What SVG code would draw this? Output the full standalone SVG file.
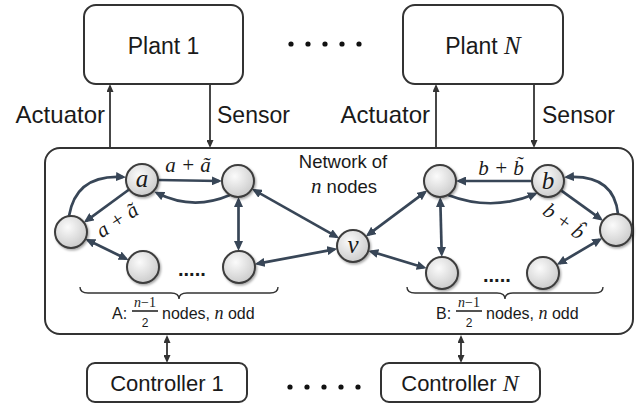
<svg xmlns="http://www.w3.org/2000/svg" width="638" height="404" viewBox="0 0 638 404">
<defs>
<style>
.box{fill:#fff;stroke:#333;stroke-width:2}
.t{font-family:"Liberation Sans",Arial,sans-serif;fill:#1a1a1a}
.m{font-family:"Liberation Serif","Times New Roman",serif;font-style:italic;fill:#1a1a1a}
.io{stroke:#333;stroke-width:1.8;fill:none}
.e{stroke:#384657;stroke-width:2.7;fill:none}
.node{fill:url(#ng);stroke:#3d3d3d;stroke-width:2;filter:url(#sh)}
.dot{fill:#111}
.brace{fill:none;stroke:#333;stroke-width:1.4}
</style>
<radialGradient id="ng" cx="40%" cy="35%" r="70%">
<stop offset="0" stop-color="#fbfbfb"/>
<stop offset="1" stop-color="#c9c9c9"/>
</radialGradient>
<filter id="sh" x="-30%" y="-30%" width="160%" height="160%">
<feDropShadow dx="1.2" dy="1.5" stdDeviation="1" flood-color="#000" flood-opacity="0.35"/>
</filter>
<marker id="ah" markerUnits="userSpaceOnUse" markerWidth="11" markerHeight="9" refX="7" refY="4.5" orient="auto-start-reverse">
<path d="M0,0 L10,4.5 L0,9 z" fill="#384657"/>
</marker>
<marker id="sa" markerUnits="userSpaceOnUse" markerWidth="9" markerHeight="7" refX="6" refY="3.5" orient="auto-start-reverse">
<path d="M0,0 L8,3.5 L0,7 z" fill="#333"/>
</marker>
</defs>

<g id="plant1">
<rect class="box" x="84" y="5" width="159" height="79" rx="12"/>
<text class="t" x="163.5" y="54" font-size="23" text-anchor="middle">Plant 1</text>
</g>
<g id="plantN">
<rect class="box" x="403" y="5" width="160" height="79" rx="12"/>
<text class="t" x="483" y="54" font-size="23" text-anchor="middle">Plant <tspan class="m" font-size="25">N</tspan></text>
</g>
<g id="topdots">
<circle class="dot" cx="291" cy="44" r="2.6"/><circle class="dot" cx="308" cy="44" r="2.6"/><circle class="dot" cx="325" cy="44" r="2.6"/><circle class="dot" cx="342" cy="44" r="2.6"/><circle class="dot" cx="359" cy="44" r="2.6"/>
</g>

<g id="network">
<rect class="box" x="45" y="148" width="588" height="186" rx="15" stroke-width="2.4"/>
<text class="t" x="343" y="168" font-size="18.5" text-anchor="middle">Network of</text>
<text class="t" x="344" y="193" font-size="18.5" text-anchor="middle"><tspan class="m" font-size="21">n</tspan> nodes</text>
</g>

<g id="controller1">
<rect class="box" x="87" y="363" width="160" height="39" rx="8"/>
<text class="t" x="167" y="391" font-size="22" text-anchor="middle">Controller 1</text>
</g>
<g id="controllerN">
<rect class="box" x="381" y="363" width="159" height="39" rx="8"/>
<text class="t" x="460" y="391" font-size="22" text-anchor="middle">Controller <tspan class="m" font-size="24">N</tspan></text>
</g>
<g id="bottomdots">
<circle class="dot" cx="290" cy="387" r="2.6"/><circle class="dot" cx="307" cy="387" r="2.6"/><circle class="dot" cx="324" cy="387" r="2.6"/><circle class="dot" cx="341" cy="387" r="2.6"/><circle class="dot" cx="358" cy="387" r="2.6"/>
</g>

<g id="io-connectors">
<line class="io" x1="110" y1="148" x2="110" y2="86" marker-end="url(#sa)"/>
<line class="io" x1="210" y1="84" x2="210" y2="146" marker-end="url(#sa)"/>
<line class="io" x1="436" y1="148" x2="436" y2="86" marker-end="url(#sa)"/>
<line class="io" x1="534" y1="84" x2="534" y2="146" marker-end="url(#sa)"/>
<line class="io" x1="167" y1="337" x2="167" y2="361" marker-start="url(#sa)" marker-end="url(#sa)"/>
<line class="io" x1="461" y1="337" x2="461" y2="361" marker-start="url(#sa)" marker-end="url(#sa)"/>
<text class="t" x="105" y="123" font-size="24" text-anchor="end">Actuator</text>
<text class="t" x="217" y="123" font-size="23">Sensor</text>
<text class="t" x="430" y="123" font-size="24" text-anchor="end">Actuator</text>
<text class="t" x="542" y="123" font-size="23">Sensor</text>
</g>

<g id="edges">
<line class="e" x1="158" y1="180" x2="219" y2="181" marker-end="url(#ah)"/>
<path class="e" d="M230,195 Q193,211 157,193" marker-end="url(#ah)"/>
<line class="e" x1="129.1" y1="189.5" x2="86.3" y2="220.8" marker-end="url(#ah)"/>
<path class="e" d="M69,216 Q76,174 123,177" marker-end="url(#ah)"/>
<line class="e" x1="88.1" y1="240.3" x2="125.9" y2="258.7" marker-start="url(#ah)" marker-end="url(#ah)"/>
<line class="e" x1="238.5" y1="200" x2="238.5" y2="248" marker-start="url(#ah)" marker-end="url(#ah)"/>
<line class="e" x1="254.5" y1="190.3" x2="336.5" y2="236.7" marker-start="url(#ah)" marker-end="url(#ah)"/>
<line class="e" x1="257.7" y1="263.6" x2="334.3" y2="249.4" marker-start="url(#ah)" marker-end="url(#ah)"/>

<line class="e" x1="532" y1="181" x2="459" y2="181" marker-end="url(#ah)"/>
<path class="e" d="M448,195 Q492,212 535,194" marker-end="url(#ah)"/>
<line class="e" x1="561" y1="190.4" x2="600.6" y2="218.9" marker-end="url(#ah)"/>
<path class="e" d="M618,214 Q614,174 567,177" marker-end="url(#ah)"/>
<line class="e" x1="599.6" y1="239.7" x2="559.4" y2="263.3" marker-start="url(#ah)" marker-end="url(#ah)"/>
<line class="e" x1="440.3" y1="200" x2="441.7" y2="254" marker-start="url(#ah)" marker-end="url(#ah)"/>
<line class="e" x1="424.8" y1="192.4" x2="368.2" y2="234.6" marker-start="url(#ah)" marker-end="url(#ah)"/>
<line class="e" x1="371.2" y1="251.5" x2="423.8" y2="267.5" marker-start="url(#ah)" marker-end="url(#ah)"/>

<text class="m" x="188" y="172" font-size="21" text-anchor="middle">a + ã</text>
<text class="m" x="0" y="0" font-size="21" text-anchor="middle" transform="translate(121,226) rotate(-33)">a + ã</text>
<text class="m" x="501" y="175" font-size="21" text-anchor="middle">b + b̃</text>
<text class="m" x="0" y="0" font-size="21" text-anchor="middle" transform="translate(560,227) rotate(36)">b + b̂</text>
</g>

<g id="node-a"><circle class="node" cx="142" cy="180" r="16"/><text class="m" x="142" y="187" font-size="25" text-anchor="middle">a</text></g>
<g id="node-a2"><circle class="node" cx="238" cy="181" r="16"/></g>
<g id="node-a3"><circle class="node" cx="71" cy="232" r="16"/></g>
<g id="node-a4"><circle class="node" cx="143" cy="267" r="16"/></g>
<g id="node-a5"><circle class="node" cx="239" cy="267" r="16"/></g>
<g id="node-v"><circle class="node" cx="353" cy="246" r="16"/><text class="m" x="353" y="253" font-size="25" text-anchor="middle">v</text></g>
<g id="node-b2"><circle class="node" cx="440" cy="181" r="16"/></g>
<g id="node-b"><circle class="node" cx="548" cy="181" r="16"/><text class="m" x="548" y="189" font-size="25" text-anchor="middle">b</text></g>
<g id="node-b3"><circle class="node" cx="616" cy="230" r="16"/></g>
<g id="node-b4"><circle class="node" cx="442" cy="273" r="16"/></g>
<g id="node-b5"><circle class="node" cx="543" cy="273" r="16"/></g>
<text class="t" x="178" y="276" font-size="20" font-weight="bold">.....</text>
<text class="t" x="483" y="282" font-size="20" font-weight="bold">.....</text>

<g id="groupA">
<path class="brace" d="M80,287 Q80,293 88,293 L171,293 Q179,293 179,299 Q179,293 187,293 L270,293 Q278,293 278,287"/>
<text class="t" x="112" y="319" font-size="16">A:</text>
<text class="m" x="145" y="307" font-size="14" text-anchor="middle">n<tspan font-style="normal">−1</tspan></text>
<line x1="132" y1="311" x2="158" y2="311" stroke="#1a1a1a" stroke-width="1.5"/>
<text class="t" x="145" y="327" font-size="12" text-anchor="middle">2</text>
<text class="t" x="162" y="319" font-size="16">nodes, <tspan class="m" font-size="18">n</tspan> odd</text>
</g>
<g id="groupB">
<path class="brace" d="M407,287 Q407,293 415,293 L497,293 Q505,293 505,299 Q505,293 513,293 L595,293 Q603,293 603,287"/>
<text class="t" x="436" y="319" font-size="16">B:</text>
<text class="m" x="469" y="307" font-size="14" text-anchor="middle">n<tspan font-style="normal">−1</tspan></text>
<line x1="456" y1="311" x2="482" y2="311" stroke="#1a1a1a" stroke-width="1.5"/>
<text class="t" x="469" y="327" font-size="12" text-anchor="middle">2</text>
<text class="t" x="486" y="319" font-size="16">nodes, <tspan class="m" font-size="18">n</tspan> odd</text>
</g>
</svg>
